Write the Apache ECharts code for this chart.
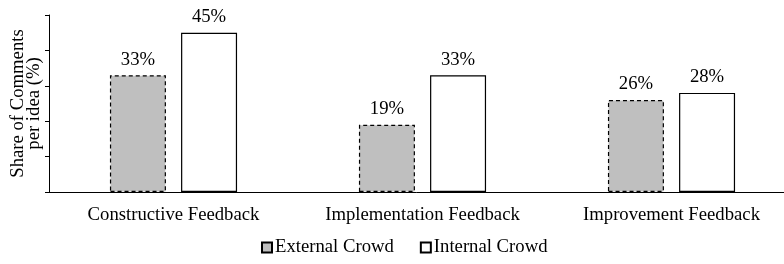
<!DOCTYPE html>
<html>
<head>
<meta charset="utf-8">
<script src="https://cdn.jsdelivr.net/npm/echarts@6/dist/echarts.min.js"></script>
<style>
  html, body { margin: 0; padding: 0; background: #fff; }
  #chart { width: 784px; height: 264px; }
</style>
</head>
<body>
<div id="chart"></div>
<script>
// 数据
var categories = ['Constructive Feedback', 'Implementation Feedback', 'Improvement Feedback'];
var externalCrowd = [33, 19, 26];
var internalCrowd = [45, 33, 28];
var seriesNames = ['External Crowd', 'Internal Crowd'];

var serif = '"Liberation Serif", "DejaVu Serif", serif';
var fs = 18.7;

var option = {
    animation: false,
    textStyle: { fontFamily: serif },
    grid: {
        left: 49,
        right: -12,
        top: 15,
        bottom: 72,
        outerBoundsMode: 'none',
        containLabel: false
    },
    legend: {
        bottom: 2,
        left: 256,
        icon: 'rect',
        itemWidth: 10,
        itemHeight: 10,
        itemGap: 26,
        textStyle: { fontFamily: serif, fontSize: fs, color: '#000', padding: [0, 0, 0, -2] },
        data: seriesNames
    },
    xAxis: {
        type: 'category',
        data: categories,
        axisTick: { show: false },
        axisLine: { lineStyle: { color: '#000', width: 1 } },
        axisLabel: {
            interval: 0,
            hideOverlap: false,
            fontFamily: serif,
            fontSize: fs,
            color: '#000',
            margin: 14
        }
    },
    yAxis: {
        type: 'value',
        min: 0,
        max: 50,
        interval: 10,
        name: 'Share of Comments\nper idea (%)',
        nameLocation: 'middle',
        nameRotate: 90,
        nameGap: 7,
        nameTextStyle: { fontFamily: serif, fontSize: fs, color: '#000', lineHeight: 16 },
        axisLine: { show: true, lineStyle: { color: '#000', width: 1 } },
        axisTick: { show: true, length: 4, lineStyle: { color: '#000' } },
        axisLabel: { show: false },
        splitLine: { show: false }
    },
    series: [
        {
            name: seriesNames[0],
            type: 'bar',
            data: externalCrowd,
            barWidth: 56,
            barGap: '27%',
            itemStyle: {
                color: '#bfbfbf',
                borderColor: '#000',
                borderWidth: 1.2,
                borderType: [4, 3]
            },
            label: {
                show: true,
                position: 'top',
                distance: 6,
                formatter: '{c}%',
                fontFamily: serif,
                fontSize: fs,
                color: '#000'
            }
        },
        {
            name: seriesNames[1],
            type: 'bar',
            data: internalCrowd,
            barWidth: 56,
            itemStyle: {
                color: '#fff',
                borderColor: '#000',
                borderWidth: 1.2
            },
            label: {
                show: true,
                position: 'top',
                distance: 6,
                formatter: '{c}%',
                fontFamily: serif,
                fontSize: fs,
                color: '#000'
            }
        }
    ]
};

var chart = echarts.init(document.getElementById('chart'));
chart.setOption(option);
</script>
</body>
</html>
